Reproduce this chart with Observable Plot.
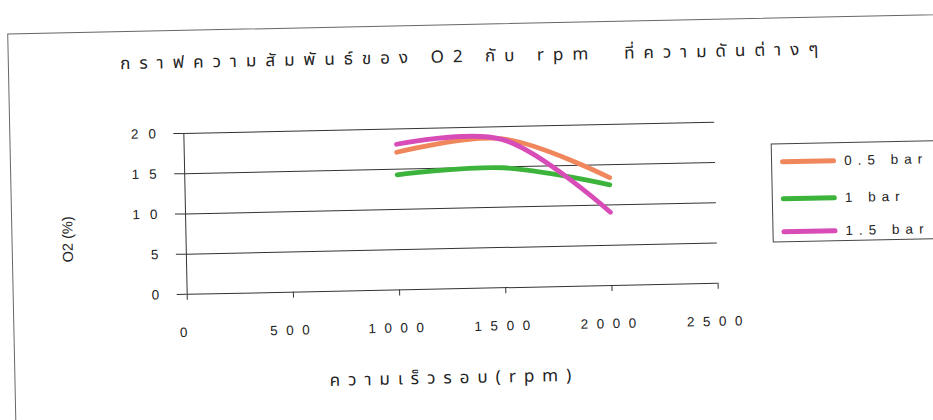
<!DOCTYPE html>
<html><head><meta charset="utf-8">
<script src="https://cdn.jsdelivr.net/npm/d3@7"></script>
<script src="https://cdn.jsdelivr.net/npm/@observablehq/plot@0.6"></script>
<style>
html,body{margin:0;padding:0;background:#fff;overflow:hidden;width:933px;height:420px;}
#wrap{position:relative;width:933px;height:420px;transform:rotate(-1.2deg);transform-origin:466px 210px;font-family:"Liberation Sans",Arial,sans-serif;color:#222;}
#frame{position:absolute;left:11px;top:24px;width:1000px;height:500px;border:1.5px solid #666;}
#title{position:absolute;left:0;width:954px;top:44px;text-align:center;font-size:17px;letter-spacing:9px;white-space:pre;font-family:"Noto Sans Thai","Tahoma","DejaVu Sans",sans-serif;}
#xlabel{position:absolute;left:0;width:902px;top:365px;text-align:center;font-size:17px;letter-spacing:8px;white-space:pre;font-family:"Noto Sans Thai","Tahoma","DejaVu Sans",sans-serif;}
#ylabel{position:absolute;left:67px;top:231px;transform:translate(-50%,-50%) rotate(-90deg);font-size:14.5px;white-space:pre;}
#chart{position:absolute;left:0;top:0;}
#legend{position:absolute;left:772px;top:150px;width:180px;height:97px;border:1px solid #444;background:#fff;}
.row{position:absolute;left:8px;height:20px;display:flex;align-items:center;}
.sw{width:56px;height:5px;border-radius:3px;margin-right:8px;}
.lt{font-size:13.5px;letter-spacing:6px;white-space:pre;}
svg [aria-label="x-axis tick label"] text{letter-spacing:8.5px;font-size:13.5px;}
svg [aria-label="y-axis tick label"] text{letter-spacing:10px;font-size:13.5px;}
</style></head>
<body>
<div id="wrap">
  <div id="frame"></div>
  <div id="chart"></div>
  <div id="title"></div>
  <div id="xlabel"></div>
  <div id="ylabel"></div>
  <div id="legend"></div>
</div>
<script>
const rpm = [1000, 1500, 2000];
const o2_05 = [17.1, 18.5, 13.4];
const o2_1 = [14.3, 14.9, 12.5];
const o2_15 = [18.1, 18.4, 9.1];
const seriesNames = ["0.5 bar", "1 bar", "1.5 bar"];
const seriesColors = ["#f0875c", "#3cb43c", "#d84cb8"];
const xTicks = [0, 500, 1000, 1500, 2000, 2500];
const yTicks = [0, 5, 10, 15, 20];
const titleText = "กราฟความสัมพันธ์ของ O2 กับ rpm  ที่ความดันต่างๆ";
const xLabelText = "ความเร็วรอบ(rpm)";
const yLabelText = "O2 (%)";

const seriesValues = [o2_05, o2_1, o2_15];
const rows = seriesNames.flatMap((s, i) => rpm.map((r, j) => ({series: s, rpm: r, o2: seriesValues[i][j]})));

const plot = Plot.plot({
  width: 933,
  height: 420,
  marginLeft: 185,
  marginRight: 217,
  marginTop: 127,
  marginBottom: 132,
  style: {background: "transparent", fontFamily: "'Liberation Sans', Arial, sans-serif", fontSize: "13px", color: "#222"},
  x: {domain: [0, 2500], label: null},
  y: {domain: [0, 20], label: null},
  color: {domain: seriesNames, range: seriesColors},
  marks: [
    Plot.gridY(yTicks, {stroke: "#333", strokeOpacity: 1, strokeWidth: 1}),
    Plot.ruleX([0], {stroke: "#333", strokeWidth: 1}),
    Plot.axisY(yTicks, {tickSize: 10, tickPadding: 8, stroke: "#333", strokeOpacity: 1, fill: "#222", label: null, tickFormat: d3.format("d")}),
    Plot.axisX(xTicks, {tickSize: 6, tickPadding: 27, stroke: "#333", strokeOpacity: 1, fill: "#222", dx: 0, label: null, tickFormat: d3.format("d")}),
    Plot.line(rows, {x: "rpm", y: "o2", stroke: "series", z: "series", curve: "catmull-rom", strokeWidth: 4.8, strokeLinecap: "round", strokeLinejoin: "round"})
  ]
});
document.getElementById("chart").append(plot);
document.getElementById("title").textContent = titleText;
document.getElementById("xlabel").textContent = xLabelText;
document.getElementById("ylabel").textContent = yLabelText;

const legend = document.getElementById("legend");
const rowTops = [7, 44, 77];
seriesNames.forEach((s, i) => {
  const r = document.createElement("div");
  r.className = "row";
  r.style.top = rowTops[i] + "px";
  const sw = document.createElement("div");
  sw.className = "sw";
  sw.style.background = seriesColors[i];
  const t = document.createElement("span");
  t.className = "lt";
  t.textContent = s;
  r.append(sw, t);
  legend.append(r);
});
</script>
</body></html>
